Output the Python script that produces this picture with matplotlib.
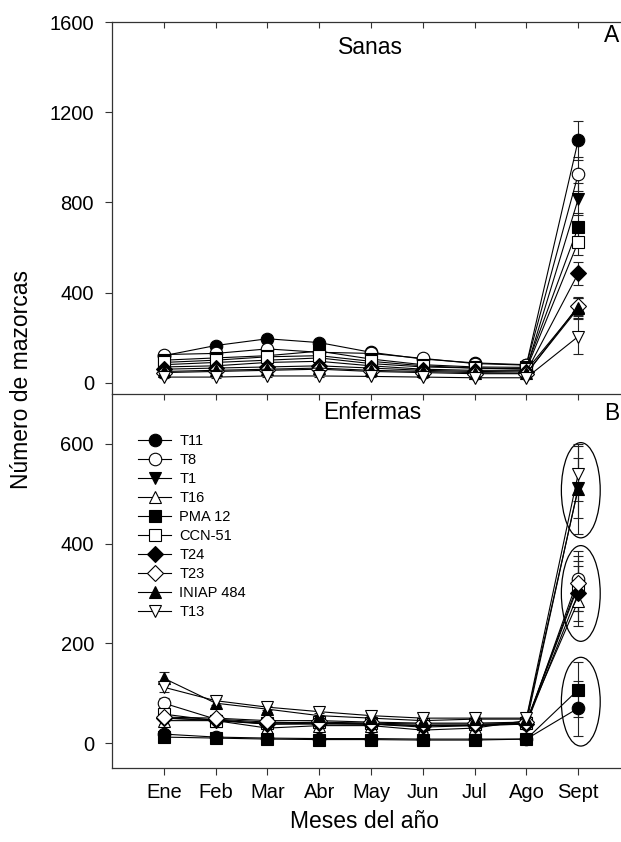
import matplotlib
matplotlib.use("Agg")
import matplotlib.pyplot as plt
from matplotlib.lines import Line2D
from matplotlib.patches import Ellipse

plt.rcParams["font.family"] = ["Liberation Sans", "DejaVu Sans"]

MONTHS = ["Ene", "Feb", "Mar", "Abr", "May", "Jun", "Jul", "Ago", "Sept"]
SERIES = ["T11", "T8", "T1", "T16", "PMA 12", "CCN-51", "T24", "T23", "INIAP 484", "T13"]

# Sanas (healthy pods), mean and error per month
SANAS_T11 = [120, 165, 195, 178, 135, 105, 88, 80, 1075]
SANAS_T8 = [125, 130, 150, 135, 130, 108, 85, 78, 925]
SANAS_T1 = [80, 90, 100, 110, 85, 70, 65, 62, 815]
SANAS_T16 = [70, 75, 90, 95, 75, 60, 55, 55, 335]
SANAS_PMA12 = [100, 110, 120, 140, 105, 80, 70, 68, 690]
SANAS_CCN51 = [90, 100, 115, 120, 95, 75, 65, 60, 625]
SANAS_T24 = [60, 65, 70, 75, 65, 55, 50, 48, 485]
SANAS_T23 = [45, 50, 55, 60, 50, 45, 40, 40, 340]
SANAS_INIAP = [50, 55, 60, 65, 55, 50, 45, 42, 330]
SANAS_T13 = [25, 25, 30, 30, 28, 25, 22, 22, 205]

SANAS_ERR_T11 = [10, 12, 15, 12, 10, 8, 6, 6, 85]
SANAS_ERR_T8 = [10, 10, 12, 10, 10, 8, 6, 6, 75]
SANAS_ERR_T1 = [8, 8, 10, 10, 8, 6, 5, 5, 70]
SANAS_ERR_T16 = [6, 6, 8, 8, 6, 5, 5, 5, 40]
SANAS_ERR_PMA12 = [8, 8, 10, 12, 8, 6, 5, 5, 65]
SANAS_ERR_CCN51 = [8, 8, 10, 10, 8, 6, 5, 5, 60]
SANAS_ERR_T24 = [6, 6, 6, 6, 5, 5, 4, 4, 50]
SANAS_ERR_T23 = [5, 5, 5, 5, 5, 4, 4, 4, 40]
SANAS_ERR_INIAP = [5, 5, 5, 6, 5, 4, 4, 4, 45]
SANAS_ERR_T13 = [3, 3, 3, 3, 3, 3, 3, 3, 77]

# Enfermas (diseased pods)
ENF_T11 = [18, 12, 10, 9, 9, 8, 8, 8, 70]
ENF_T8 = [80, 48, 42, 40, 38, 35, 35, 38, 330]
ENF_T1 = [50, 45, 38, 38, 38, 32, 35, 40, 512]
ENF_T16 = [45, 45, 30, 35, 35, 26, 30, 45, 285]
ENF_PMA12 = [12, 10, 8, 7, 7, 6, 6, 8, 107]
ENF_CCN51 = [58, 45, 40, 42, 40, 38, 38, 40, 315]
ENF_T24 = [50, 47, 38, 40, 38, 35, 36, 38, 300]
ENF_T23 = [52, 50, 45, 45, 42, 40, 40, 42, 320]
ENF_INIAP = [130, 80, 68, 55, 50, 45, 48, 48, 510]
ENF_T13 = [112, 85, 72, 63, 55, 50, 50, 50, 540]

ENF_ERR_T11 = [8, 4, 3, 3, 3, 3, 3, 3, 55]
ENF_ERR_T8 = [10, 6, 6, 5, 5, 5, 5, 5, 55]
ENF_ERR_T1 = [6, 5, 5, 5, 5, 4, 4, 5, 60]
ENF_ERR_T16 = [6, 5, 5, 5, 5, 4, 4, 5, 50]
ENF_ERR_PMA12 = [5, 4, 3, 3, 3, 3, 3, 3, 55]
ENF_ERR_CCN51 = [6, 5, 5, 5, 5, 4, 4, 5, 50]
ENF_ERR_T24 = [6, 5, 5, 5, 5, 4, 4, 5, 55]
ENF_ERR_T23 = [6, 5, 5, 5, 5, 4, 4, 5, 55]
ENF_ERR_INIAP = [12, 8, 6, 6, 5, 5, 5, 5, 90]
ENF_ERR_T13 = [10, 8, 6, 6, 5, 5, 5, 5, 55]

# groups circled at Sept in panel B: (centre, height)
ELLIPSE_CENTERS = [507, 300, 83]
ELLIPSE_HEIGHTS = [191, 192, 178]

SANAS = [SANAS_T11, SANAS_T8, SANAS_T1, SANAS_T16, SANAS_PMA12,
         SANAS_CCN51, SANAS_T24, SANAS_T23, SANAS_INIAP, SANAS_T13]
SANAS_ERR = [SANAS_ERR_T11, SANAS_ERR_T8, SANAS_ERR_T1, SANAS_ERR_T16, SANAS_ERR_PMA12,
             SANAS_ERR_CCN51, SANAS_ERR_T24, SANAS_ERR_T23, SANAS_ERR_INIAP, SANAS_ERR_T13]
ENF = [ENF_T11, ENF_T8, ENF_T1, ENF_T16, ENF_PMA12,
       ENF_CCN51, ENF_T24, ENF_T23, ENF_INIAP, ENF_T13]
ENF_ERR = [ENF_ERR_T11, ENF_ERR_T8, ENF_ERR_T1, ENF_ERR_T16, ENF_ERR_PMA12,
           ENF_ERR_CCN51, ENF_ERR_T24, ENF_ERR_T23, ENF_ERR_INIAP, ENF_ERR_T13]

# marker, filled?
STYLES = [("o", True), ("o", False), ("v", True), ("^", False), ("s", True),
          ("s", False), ("D", True), ("D", False), ("^", True), ("v", False)]

W, H = 621, 842


def marker_kw(mk, filled):
    return dict(marker=mk, ms=8 if mk == "D" else 9, mec="black", mew=0.8,
                mfc="black" if filled else "white")


def draw_series(ax, values, errors):
    x = list(range(1, len(MONTHS) + 1))
    for y, e, (mk, filled) in zip(values, errors, STYLES):
        ax.errorbar(x, y, yerr=e, color="black", lw=0.8, elinewidth=0.8,
                    ecolor="#222222", capsize=3.5, capthick=0.8,
                    **marker_kw(mk, filled))


def style_axis(ax):
    for s in ["left", "top", "bottom"]:
        ax.spines[s].set_linewidth(0.9)
        ax.spines[s].set_color("#333333")
    ax.spines["right"].set_visible(False)
    ax.set_xlim(0, 10)
    ax.set_xticks(range(1, 10))
    ax.tick_params(axis="y", direction="out", length=5, width=0.8, pad=8,
                   labelsize=14.5, color="#333333")
    ax.tick_params(axis="x", which="both", width=0.8, color="#333333")


fig = plt.figure(figsize=(W / 100, H / 100), dpi=100)
left = 112 / W
width = (630 - 112) / W
ax_a = fig.add_axes([left, 1 - 394 / H, width, (394 - 22) / H])
ax_b = fig.add_axes([left, 1 - 768 / H, width, (768 - 394) / H])

# Panel A
draw_series(ax_a, SANAS, SANAS_ERR)
style_axis(ax_a)
ax_a.set_ylim(-50, 1600)
ax_a.set_yticks([0, 400, 800, 1200, 1600])
ax_a.spines["bottom"].set_visible(False)
ax_a.tick_params(axis="x", top=True, bottom=False, labelbottom=False,
                 direction="in", length=4)

# Panel B
draw_series(ax_b, ENF, ENF_ERR)
style_axis(ax_b)
ax_b.set_ylim(-50, 700)
ax_b.set_yticks([0, 200, 400, 600])
ax_b.tick_params(axis="x", top=True, bottom=False, labelbottom=False,
                 direction="in", length=4)
for yc, hh in zip(ELLIPSE_CENTERS, ELLIPSE_HEIGHTS):
    ax_b.add_patch(Ellipse((9.05, yc), 0.75, hh, fill=False, ec="black", lw=0.9))

# outward bottom ticks with labels via secondary axis
sec = ax_b.secondary_xaxis("bottom")
sec.set_xticks(range(1, 10))
sec.set_xticklabels(MONTHS)
sec.tick_params(direction="out", length=5, width=0.8, pad=6, labelsize=14.5,
                color="#333333")
sec.spines["bottom"].set_visible(False)

handles = [Line2D([], [], color="black", lw=0.8, **marker_kw(mk, filled))
           for mk, filled in STYLES]
ax_b.legend(handles, SERIES, loc="upper left", bbox_to_anchor=(0.05, 0.893),
            frameon=False, fontsize=10.5, handlelength=2.3, handletextpad=0.55,
            labelspacing=0.34, borderpad=0, borderaxespad=0)

fig.text(370 / W, 1 - 48 / H, "Sanas", ha="center", va="center", fontsize=16.5)
fig.text(372 / W, 1 - 412 / H, "Enfermas", ha="center", va="center", fontsize=16.5)
fig.text(604 / W, 1 - 35 / H, "A", ha="left", va="center", fontsize=16.5)
fig.text(604 / W, 1 - 413 / H, "B", ha="left", va="center", fontsize=16.5)
fig.text(22 / W, 1 - 379 / H, "Número de mazorcas", rotation=90,
         ha="center", va="center", fontsize=16.5)
fig.text(365 / W, 1 - 822 / H, "Meses del año", ha="center", va="center",
         fontsize=16.5)

fig.savefig("out.png", dpi=100)
